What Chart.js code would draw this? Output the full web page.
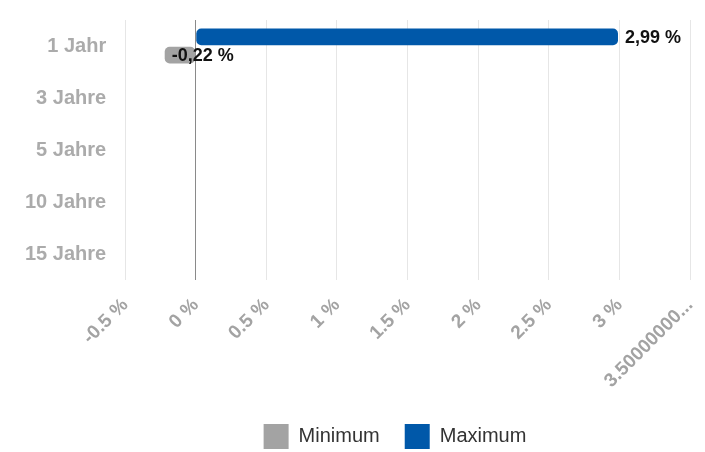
<!DOCTYPE html>
<html>
<head>
<meta charset="utf-8">
<script src="https://cdn.jsdelivr.net/npm/chart.js@4"></script>
<style>
html,body{margin:0;padding:0;background:#fff;}
#wrap{width:705px;height:452px;position:relative;}
</style>
</head>
<body>
<div id="wrap"><canvas id="c"></canvas></div>
<script>
const categories = ["1 Jahr", "3 Jahre", "5 Jahre", "10 Jahre", "15 Jahre"];
const minimumValues = [-0.22, null, null, null, null];
const maximumValues = [2.99, null, null, null, null];
const tickLabels = ["-0.5 %", "0 %", "0.5 %", "1 %", "1.5 %", "2 %", "2.5 %", "3 %", "3.50000000..."];

const FONT = '"Liberation Sans", Arial, Helvetica, sans-serif';

const labelPlugin = {
  id: 'valueLabels',
  afterDatasetsDraw(chart) {
    const ctx = chart.ctx;
    ctx.save();
    ctx.font = 'bold 18px ' + FONT;
    ctx.fillStyle = '#111';
    ctx.textAlign = 'left';
    ctx.textBaseline = 'middle';
    chart.data.datasets.forEach((ds, di) => {
      const meta = chart.getDatasetMeta(di);
      meta.data.forEach((bar, i) => {
        const v = ds.data[i];
        if (v === null || v === undefined) return;
        const txt = v.toFixed(2).replace('.', ',') + ' %';
        ctx.fillText(txt, bar.x + 7, bar.y + 1);
      });
    });
    ctx.restore();
  }
};

const legendShift = {
  id: 'legendShift',
  afterLayout(chart) {
    const lg = chart.legend;
    if (!lg) return;
    const dy = 7;
    lg.left = 85; lg.right = 705; lg.width = 620;
    lg.top += dy; lg.bottom += dy;
  }
};

new Chart(document.getElementById('c'), {
  type: 'bar',
  data: {
    labels: categories,
    datasets: [
      { label: 'Maximum', data: maximumValues, backgroundColor: '#0058a9', borderRadius: 5, borderSkipped: false,
        categoryPercentage: 0.7, barPercentage: 0.92 },
      { label: 'Minimum', data: minimumValues, backgroundColor: '#a3a3a3', borderRadius: 5, borderSkipped: false,
        categoryPercentage: 0.7, barPercentage: 0.92 }
    ]
  },
  options: {
    indexAxis: 'y',
    responsive: true,
    maintainAspectRatio: false,
    animation: false,
    layout: { padding: { top: 20, right: 15, left: 6, bottom: 0 } },
    scales: {
      x: {
        min: -0.5,
        max: 3.5,
        afterFit: (s) => { s.paddingLeft = 0; s.paddingRight = 0; s.height = 112; },
        ticks: {
          stepSize: 0.5,
          autoSkip: false,
          maxRotation: 45,
          minRotation: 45,
          padding: 14,
          color: '#a3a3a3',
          font: { family: FONT, size: 19, weight: 'bold' },
          callback: (v, i) => tickLabels[i]
        },
        grid: {
          drawTicks: false,
          color: (c) => (c.tick && c.tick.value === 0) ? '#8a8a8a' : '#e6e6e6',
          lineWidth: 1
        },
        border: { display: false }
      },
      y: {
        afterFit: (s) => { s.paddingTop = 0; s.paddingBottom = 0; },
        ticks: {
          padding: 19,
          color: '#ababab',
          font: { family: FONT, size: 20, weight: 'bold' }
        },
        grid: { display: false, drawTicks: false },
        border: { display: false }
      }
    },
    plugins: {
      legend: {
        position: 'bottom',
        reverse: true,
        labels: {
          boxWidth: 25,
          boxHeight: 25,
          padding: 25,
          color: '#333',
          font: { family: FONT, size: 20 }
        }
      },
      tooltip: { enabled: false }
    }
  },
  plugins: [labelPlugin, legendShift]
});
</script>
</body>
</html>
